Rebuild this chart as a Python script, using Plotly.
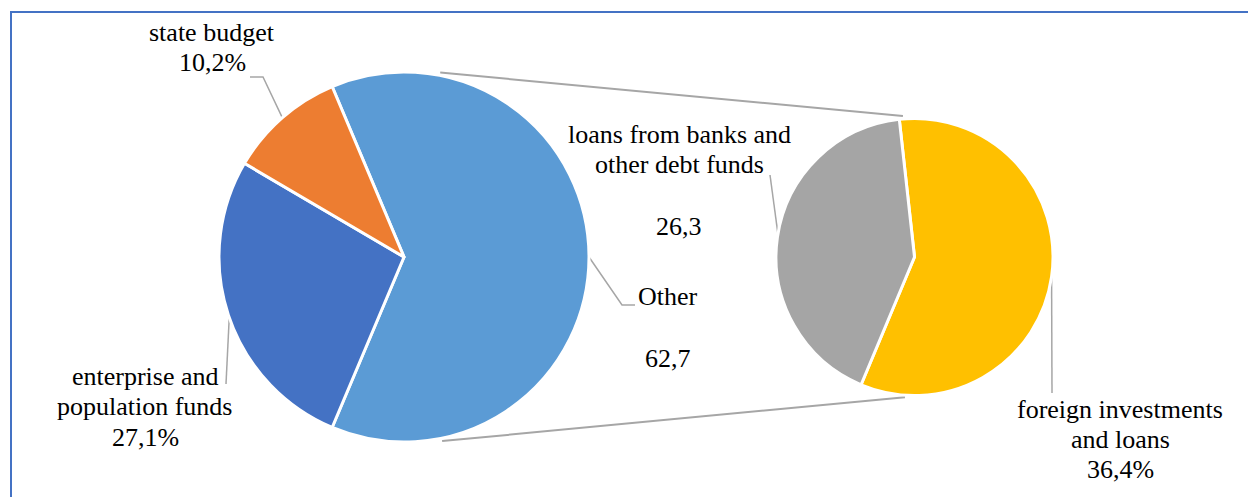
import math
import plotly.graph_objects as go

# ---------------- data ----------------
main_labels = ["Other", "enterprise and population funds", "state budget"]
main_values = [62.7, 27.1, 10.2]
main_colors = ["#5B9BD5", "#4472C4", "#ED7D31"]

sub_labels = ["foreign investments and loans", "loans from banks and other debt funds"]
sub_values = [36.4, 26.3]
sub_colors = ["#FFC000", "#A5A5A5"]

W, H = 1248, 497
FONT = "Liberation Serif"
GREY = "#A6A6A6"

# ---------------- geometry (pixels) ----------------
m_cx, m_cy, m_r = 404.0, 257.0, 185.0
s_cx, s_cy, s_r = 914.5, 257.0, 138.5

main_total = sum(main_values)
main_rot = 90 - 0.5 * main_values[0] / main_total * 360  # "Other" centred at 3 o'clock
sub_rot = -6.3


def dom(cx, cy, r):
    return dict(x=[(cx - r) / W, (cx + r) / W], y=[1 - (cy + r) / H, 1 - (cy - r) / H])


def pt(cx, cy, r, clock):
    a = math.radians(clock)
    return cx + r * math.sin(a), cy - r * math.cos(a)


def mids(values, rot):
    tot = sum(values)
    out, acc = [], rot
    for v in values:
        span = v / tot * 360
        out.append(acc + span / 2)
        acc += span
    return out


main_mid = mids(main_values, main_rot)
sub_mid = mids(sub_values, sub_rot)

fig = go.Figure()

fig.add_trace(go.Pie(
    labels=main_labels, values=main_values, sort=False, direction="clockwise",
    rotation=main_rot, marker=dict(colors=main_colors, line=dict(color="white", width=3)),
    textinfo="none", hoverinfo="label+value", domain=dom(m_cx, m_cy, m_r), showlegend=False,
))
fig.add_trace(go.Pie(
    labels=sub_labels, values=sub_values, sort=False, direction="clockwise",
    rotation=sub_rot, marker=dict(colors=sub_colors, line=dict(color="white", width=3)),
    textinfo="none", hoverinfo="label+value", domain=dom(s_cx, s_cy, s_r), showlegend=False,
))


def line(points, width=1.5, color=GREY):
    fig.add_trace(go.Scatter(
        x=[p[0] for p in points], y=[p[1] for p in points], mode="lines",
        line=dict(color=color, width=width), hoverinfo="skip", showlegend=False,
    ))


# connector (series) lines between pies
line([pt(m_cx, m_cy, m_r + 3, 11.1), pt(s_cx, s_cy, s_r + 3, -4.7)], width=2)
line([pt(m_cx, m_cy, m_r + 3, 168.3), pt(s_cx, s_cy, s_r + 2, 183.9)], width=2)

# leader lines
line([(250, 77), (263, 77), pt(m_cx, m_cy, m_r - 1, main_mid[2])])
line([pt(m_cx, m_cy, m_r - 1, main_mid[1]), (226, 384)])
line([pt(m_cx, m_cy, m_r, main_mid[0]), (622, 305), (635, 305)])
line([pt(s_cx, s_cy, s_r - 1, sub_mid[1]), (770, 175)])
line([pt(s_cx, s_cy, s_r, sub_mid[0]), (1052, 393)])

# text labels (x centre, baseline y, text)
texts = [
    (212, 41, "state budget"),
    (212, 71, "10,2%"),
    (145, 385, "enterprise and"),
    (145, 415, "population funds"),
    (145, 446, "27,1%"),
    (679, 143, "loans from banks and"),
    (679, 173, "other debt funds"),
    (679, 235, "26,3"),
    (668, 305, "Other"),
    (668, 367, "62,7"),
    (1120, 418, "foreign investments"),
    (1120, 448, "and loans"),
    (1120, 478, "36,4%"),
]
for x, yb, t in texts:
    fig.add_annotation(
        x=x, y=yb - 9, xref="x", yref="y", text=t, showarrow=False,
        xanchor="center", yanchor="middle",
        font=dict(family=FONT, size=26, color="black"),
    )

# chart frame
fig.add_shape(type="rect", xref="x", yref="y", x0=11, y0=12, x1=1262, y1=512,
              line=dict(color="#4472C4", width=2), fillcolor="rgba(0,0,0,0)", layer="above")

fig.update_layout(
    width=W, height=H, margin=dict(l=0, r=0, t=0, b=0),
    paper_bgcolor="white", plot_bgcolor="rgba(0,0,0,0)",
    font=dict(family=FONT),
    xaxis=dict(range=[0, W], visible=False, fixedrange=True, domain=[0, 1]),
    yaxis=dict(range=[H, 0], visible=False, fixedrange=True, domain=[0, 1]),
    showlegend=False,
)

fig.write_html("out.html")
